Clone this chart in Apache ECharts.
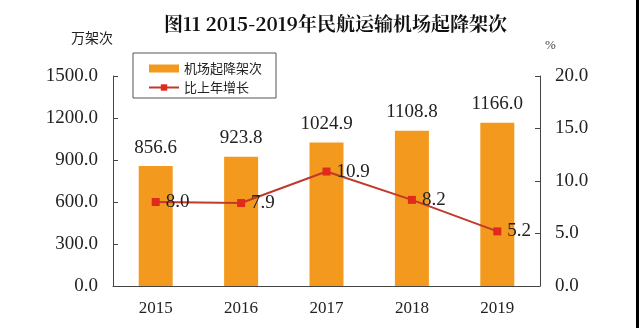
<!DOCTYPE html>
<html><head><meta charset="utf-8">
<script src="https://cdn.jsdelivr.net/npm/echarts@6/dist/echarts.min.js"></script>
<style>html,body{margin:0;padding:0;background:#fff}#c{width:640px;height:328px}</style>
</head><body><div id="c"></div>
<script>
const categories = ['2015','2016','2017','2018','2019'];
const movements = [856.6, 923.8, 1024.9, 1108.8, 1166.0];
const growth = [8.0, 7.9, 10.9, 8.2, 5.2];
const leftTicks = [0, 300, 600, 900, 1200, 1500];
const rightTicks = [0, 5, 10, 15, 20];
const titleText = '图11 2015-2019年民航运输机场起降架次';
const leftUnit = '万架次';
const rightUnit = '%';
const barName = '机场起降架次';
const lineName = '比上年增长';

const serif = '"Liberation Serif","DejaVu Serif","Noto Sans CJK SC",serif';
const cjk = '"Noto Sans CJK SC",sans-serif';
const chart = echarts.init(document.getElementById('c'));
chart.setOption({
  backgroundColor: '#fff',
  animation: false,
  title: {
    text: titleText, left: 159, top: 9,
    textStyle: {fontFamily: '"Noto Serif CJK SC","Liberation Serif","Noto Sans CJK SC",serif', fontSize: 19, fontWeight: 'bold', color: '#111'}
  },
  graphic: [
    {type: 'text', left: 71, top: 31, style: {text: leftUnit, fontFamily: cjk, fontSize: 14, fill: '#222'}},
    {type: 'text', left: 545, top: 39, style: {text: rightUnit, fontFamily: serif, fontSize: 13, fill: '#444'}},
    {type: 'rect', shape: {x: 133, y: 53, width: 143, height: 45}, style: {fill: 'none', stroke: '#555', lineWidth: 1}},
    {type: 'rect', shape: {x: 636, y: 0, width: 3, height: 328}, style: {fill: '#000'}}
  ],
  legend: {
    left: 143, top: 57, orient: 'vertical', itemGap: 6,
    itemWidth: 30, itemHeight: 8,
    textStyle: {fontFamily: cjk, fontSize: 13, color: '#222'},
    data: [
      {name: barName, icon: 'rect'},
      {name: lineName}
    ]
  },
  grid: {left: 113, right: 100, top: 76, bottom: 42},
  xAxis: {
    type: 'category', data: categories,
    axisLine: {lineStyle: {color: '#444', width: 1}},
    axisTick: {inside: true, length: 5, lineStyle: {color: '#444'}},
    axisLabel: {fontFamily: serif, fontSize: 17, color: '#222', margin: 14}
  },
  yAxis: [
    {type: 'value', min: leftTicks[0], max: leftTicks[leftTicks.length-1], interval: 300,
     splitLine: {show: false},
     axisLine: {show: true, lineStyle: {color: '#444'}},
     axisTick: {show: true, inside: true, length: 5, lineStyle: {color: '#444'}},
     axisLabel: {fontFamily: serif, fontSize: 19, color: '#222', margin: 15, formatter: v => v.toFixed(1)}},
    {type: 'value', min: rightTicks[0], max: rightTicks[rightTicks.length-1], interval: 5,
     splitLine: {show: false},
     axisLine: {show: true, lineStyle: {color: '#444'}},
     axisTick: {show: true, inside: true, length: 5, lineStyle: {color: '#444'}},
     axisLabel: {fontFamily: serif, fontSize: 19, color: '#222', margin: 15, formatter: v => v.toFixed(1)}}
  ],
  series: [
    {name: barName, type: 'bar', data: movements, barWidth: 34, yAxisIndex: 0,
     itemStyle: {color: '#F39A1E'},
     label: {show: true, position: 'top', distance: 9, fontFamily: serif, fontSize: 19, color: '#222', formatter: p => p.value.toFixed(1)}},
    {name: lineName, type: 'line', data: growth, yAxisIndex: 1,
     symbol: 'rect', symbolSize: 8,
     lineStyle: {color: '#C0392B', width: 2},
     itemStyle: {color: '#E02A1C'},
     label: {show: true, position: 'right', distance: 6, fontFamily: serif, fontSize: 19, color: '#222', formatter: p => p.value.toFixed(1)}}
  ]
});
</script></body></html>
